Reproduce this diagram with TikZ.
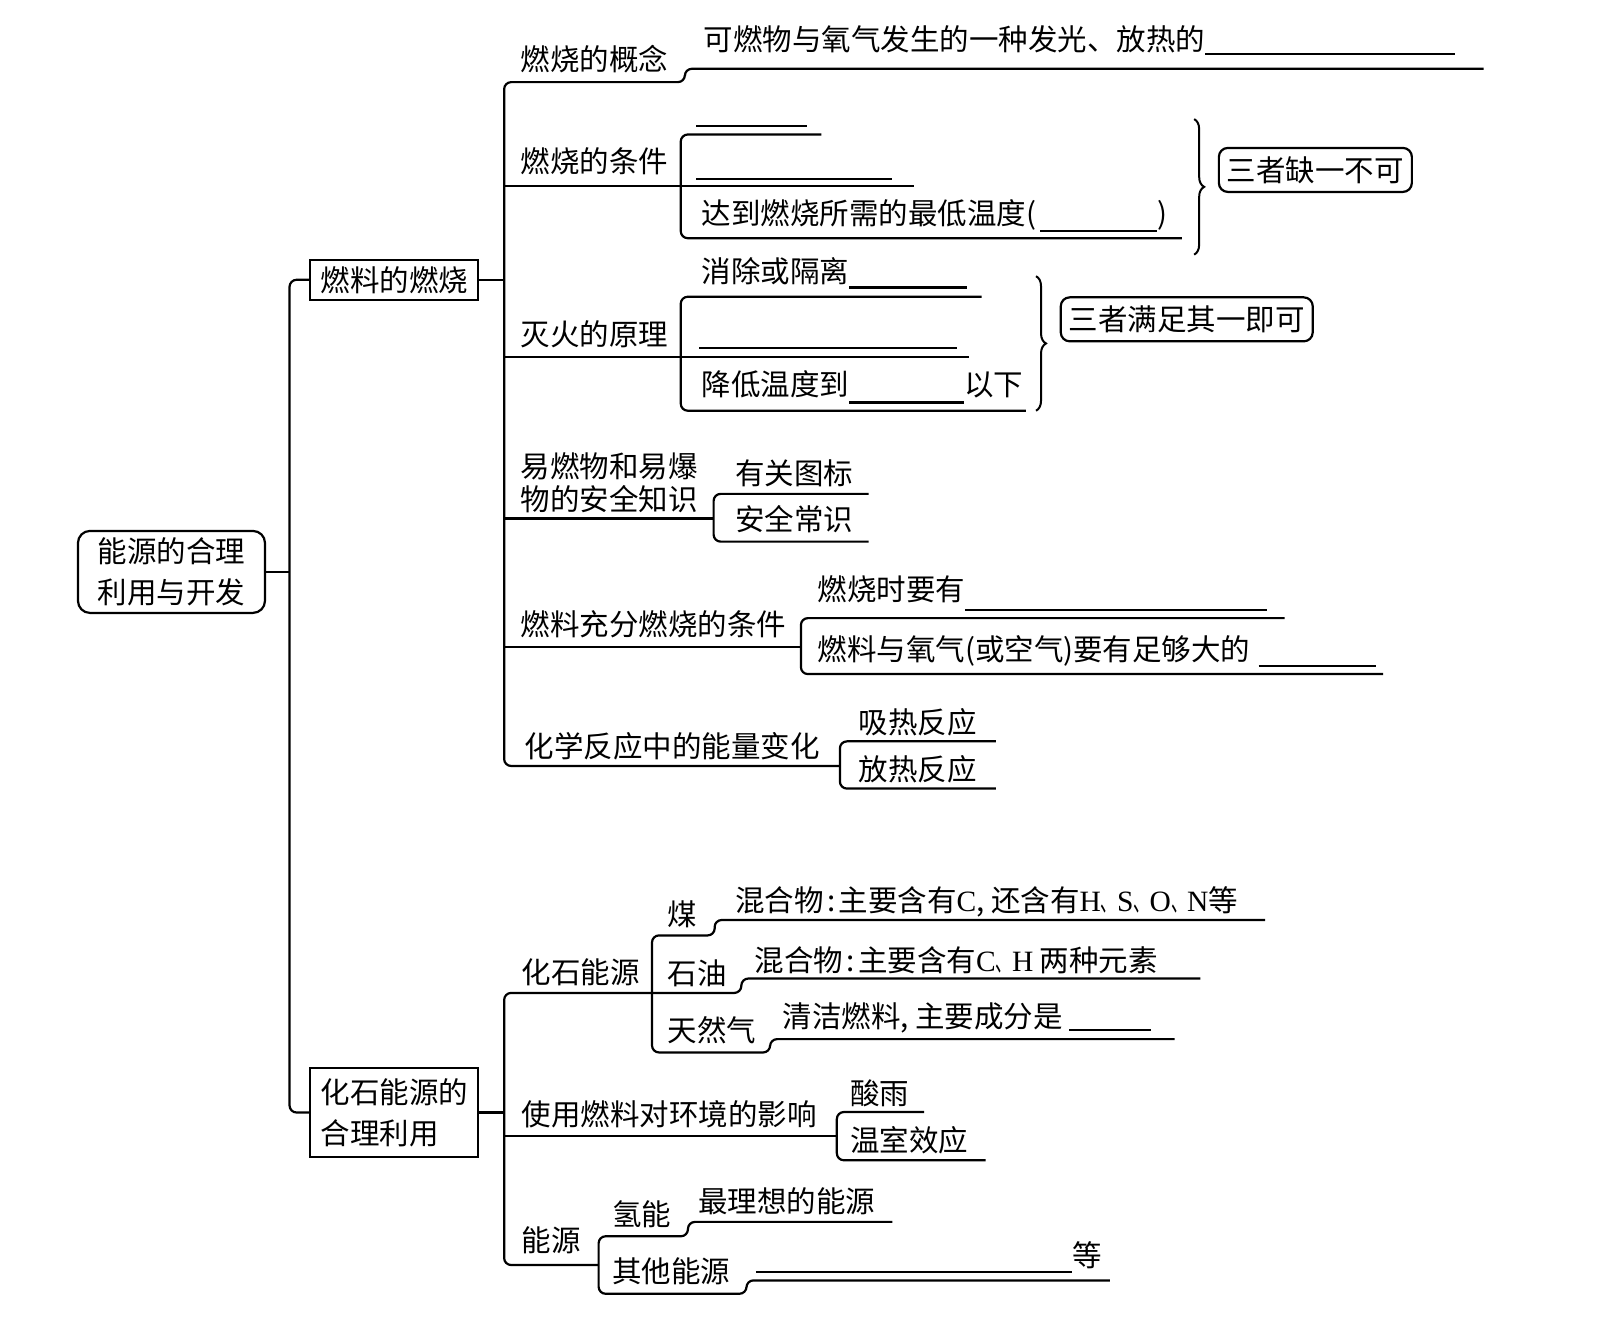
\documentclass[tikz,border=0pt]{standalone}
\usepackage{fontspec}
\setmainfont{Noto Sans CJK SC}
\newfontfamily\latinfont{Liberation Serif}
\usepackage{tikz}
\usetikzlibrary{positioning,decorations.pathreplacing}

\newlength\upx
\setlength\upx{1.0268pt}
\newcommand\fillin[2][5]{\rule[-#1\upx]{#2\upx}{2.1pt}}
\newcommand\dun{\scalebox{0.55}[1]{、}}
\newcommand\dou{\makebox[0.5em][l]{,}}
\newcommand\mh{\makebox[0.5em]{:}}
\newcommand\el[1]{{\latinfont #1}}

\begin{document}
\begin{tikzpicture}[x=1.0268pt,y=-1.0268pt,
  every node/.style={inner sep=0pt,font=\fontsize{29.5}{41}\selectfont},
  txt/.style={anchor=base west},
  link/.style={line width=2.2pt,rounded corners=7pt},
  box/.style={draw,line width=2.2pt,minimum width=168pt},
  tag/.style={draw,line width=2.2pt,rounded corners=9pt,inner xsep=8pt,minimum height=44pt},
  brace/.style={decorate,line width=2pt,decoration={brace,amplitude=10pt}}]

\fill[white] (0,0) rectangle (1568,1292);

\node[box,rounded corners=12pt,minimum width=187pt,minimum height=82pt,align=center] (root) at (167,557) {能源的合理\\利用与开发};
\node[box,minimum height=40pt] (fuel) at (384,272.5) {燃料的燃烧};
\node[box,minimum height=89pt,align=left] (fossil) at (384,1083.5) {化石能源的\\合理利用};

\node[txt] (concept) at (507,69) {燃烧的概念};
\node[txt] (conceptT) at (685,49) {可燃物与氧气发生的一种发光、放热的\fillin{243}};

\node[txt] (cond) at (507,168) {燃烧的条件};
\node[txt] (condA) at (678,119) {\fillin{108}};
\node[txt] (condB) at (678,170) {\fillin{191}};
\node[txt] (condC) at (683,219) {达到燃烧所需的最低温度(\hspace{4\upx}\fillin[7]{114})};
\node[tag,anchor=west] (allneed) at (1186,165.5) {三者缺一不可};

\node[txt] (fire) at (507,336) {灭火的原理};
\node[txt] (fireA) at (683,275) {消除或隔离\fillin[6]{115}};
\node[txt] (fireB) at (681,335) {\fillin{251}};
\node[txt] (fireC) at (683,385) {降低温度到\fillin[8]{112}以下};
\node[tag,anchor=west] (oneok) at (1032,311) {三者满足其一即可};

\node[anchor=west,align=left,font=\fontsize{29.5}{32.5}\selectfont] (safe) at (507,470) {易燃物和易爆\\物的安全知识};
\node[txt] (safeA) at (716,472) {有关图标};
\node[txt] (safeB) at (716,517) {安全常识};

\node[txt] (full) at (507,619) {燃料充分燃烧的条件};
\node[txt] (fullA) at (796,585) {燃烧时要有\fillin[10]{294}};
\node[txt] (fullB) at (796,643) {燃料与氧气(或空气)要有足够大的\hspace{8\upx}\fillin[7]{114}};

\node[txt] (heat) at (511,738) {化学反应中的能量变化};
\node[txt] (heatA) at (836,714) {吸热反应};
\node[txt] (heatB) at (836,760) {放热反应};

\node[txt] (fsrc) at (508,958) {化石能源};
\node[txt] (coal) at (650,901) {煤};
\node[txt] (coalT) at (716,888) {混合物\mh 主要含有\el{C}\dou 还含有\el{H}\dun\el{S}\dun\el{O}\dun\el{N}等};
\node[txt] (oil) at (650,959) {石油};
\node[txt] (oilT) at (735,946) {混合物\mh 主要含有\el{C}\dun\el{H} 两种元素};
\node[txt] (gas) at (650,1014) {天然气};
\node[txt] (gasT) at (762,1001) {清洁燃料\dou 主要成分是\hspace{6\upx}\fillin[3]{80}};

\node[txt] (env) at (508,1096) {使用燃料对环境的影响};
\node[txt] (envA) at (828,1076) {酸雨};
\node[txt] (envB) at (828,1121) {温室效应};

\node[txt] (src) at (508,1219) {能源};
\node[txt] (hyd) at (596,1194) {氢能};
\node[txt] (hydT) at (680,1181) {最理想的能源};
\node[txt] (other) at (596,1249) {其他能源};
\node[txt] (otherT) at (736,1233) {\fillin[7]{308}等};

\coordinate (s0) at (282,557);
\coordinate (s1) at (491,272.5);
\coordinate (s2) at (491,1083.5);

\draw[link] (root.east) -- (s0);
\draw[link] (fuel.west) -| (s0) |- (fossil.west);
\draw[link] (fuel.east) -- (s1);
\draw[link] (fossil.east) -- (s2);

\draw[link] (1445,67) -| (667,80) -| (s1) |- (818,746);
\draw[link] (491,181) -- (890,181);
\draw[link] (800,131) -| (663,181) |- (1151,232);
\draw[link] (491,347.5) -- (944,347.5);
\draw[link] (956,289) -| (663,347.5) |- (999,400);
\draw[link] (491,505) -- (695,505);
\draw[link] (846,481) -| (695,505) |- (846,527.5);
\draw[link] (491,630) -- (780,630);
\draw[link] (1251,602) -| (780,630) |- (1347,656.5);
\draw[link] (970,722) -| (818,746) |- (970,768);

\draw[brace] (1163,116) -- (1163,248);
\draw[brace] (1009,269) -- (1009,400);

\draw[link] (1169,953) -| (722,967) -| (s2) |- (583,1232);
\draw[link] (1232,896) -| (696,911) -| (635,967) |- (750,1025) |- (1144,1012);
\draw[link] (491,1106) -- (815,1106);
\draw[link] (900,1083) -| (815,1106) |- (960,1130);
\draw[link] (869,1190) -| (670,1204) -| (583,1232) |- (727,1260) |- (1081,1247);
\end{tikzpicture}
\end{document}
